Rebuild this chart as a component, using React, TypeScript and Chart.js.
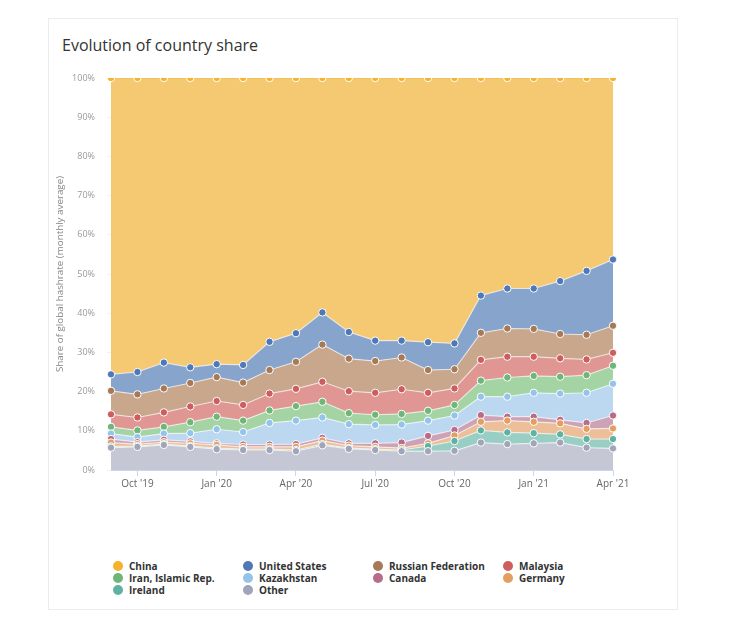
import React, { useEffect, useRef } from "react";
import { Chart, registerables } from "chart.js";

Chart.register(...registerables);

const months = [
  "Sep '19", "Oct '19", "Nov '19", "Dec '19", "Jan '20", "Feb '20", "Mar '20", "Apr '20",
  "May '20", "Jun '20", "Jul '20", "Aug '20", "Sep '20", "Oct '20", "Nov '20", "Dec '20",
  "Jan '21", "Feb '21", "Mar '21", "Apr '21",
];

const yTicks = [0, 10, 20, 30, 40, 50, 60, 70, 80, 90, 100];

const other = [5.7, 5.9, 6.4, 5.9, 5.3, 5.1, 5.1, 4.8, 6.3, 5.4, 5.1, 4.8, 4.8, 4.9, 7.0, 6.6, 6.8, 7.0, 5.7, 5.5];
const ireland = [0.3, 0.2, 0.2, 0.2, 0.3, 0.2, 0.2, 0.3, 0.3, 0.2, 0.2, 0.3, 1.3, 2.5, 3.1, 3.0, 2.6, 2.1, 2.2, 2.4];
const germany = [1.0, 0.5, 0.5, 0.7, 0.8, 0.6, 0.6, 0.8, 0.9, 0.6, 0.6, 0.5, 0.7, 1.4, 2.2, 3.0, 2.9, 2.8, 2.6, 2.7];
const canada = [0.9, 0.5, 0.6, 0.5, 0.4, 0.6, 0.6, 0.7, 0.7, 0.6, 0.9, 1.4, 1.9, 1.4, 1.7, 1.0, 1.3, 0.9, 1.5, 3.3];
const kazakhstan = [1.4, 1.3, 1.6, 2.1, 3.6, 3.2, 5.5, 6.0, 5.2, 4.9, 4.7, 4.6, 3.9, 3.7, 4.7, 5.1, 6.1, 6.7, 7.7, 8.1];
const iran = [1.7, 1.7, 1.7, 2.8, 3.2, 2.9, 3.2, 3.7, 4.0, 2.8, 2.6, 2.7, 2.5, 2.7, 4.1, 4.9, 4.3, 4.3, 4.5, 4.6];
const malaysia = [3.2, 3.3, 3.7, 4.0, 4.0, 4.0, 4.3, 4.4, 5.1, 5.6, 5.6, 6.3, 4.6, 4.2, 5.3, 5.3, 4.9, 4.7, 4.0, 3.3];
const russia = [6.0, 5.9, 6.1, 6.0, 6.1, 5.7, 6.0, 6.9, 9.5, 8.3, 8.1, 8.1, 5.8, 4.9, 6.9, 7.2, 7.1, 6.2, 6.3, 6.9];
const unitedStates = [4.2, 5.7, 6.6, 4.0, 3.3, 4.5, 7.2, 7.3, 8.2, 6.8, 5.2, 4.3, 7.1, 6.6, 9.5, 10.2, 10.3, 13.5, 16.3, 16.9];
const china = [75.6, 75.0, 72.6, 73.8, 73.0, 73.2, 67.3, 65.1, 59.8, 64.8, 67.0, 67.0, 67.4, 67.7, 55.5, 53.7, 53.7, 51.8, 49.2, 46.3];

// bottom to top
const seriesNames = ["Other", "Ireland", "Germany", "Canada", "Kazakhstan", "Iran, Islamic Rep.", "Malaysia", "Russian Federation", "United States", "China"];
const seriesData = [other, ireland, germany, canada, kazakhstan, iran, malaysia, russia, unitedStates, china];
const pointColors = [
  "rgb(160,165,185)", "rgb(95,178,162)", "rgb(228,158,98)", "rgb(182,108,138)", "rgb(148,196,234)",
  "rgb(112,182,118)", "rgb(206,94,94)", "rgb(166,122,88)", "rgb(78,120,182)", "rgb(246,178,42)",
];
const fillColors = [
  "rgb(197,200,212)", "rgb(152,206,196)", "rgb(237,191,152)", "rgb(206,162,182)", "rgb(188,216,240)",
  "rgb(164,211,164)", "rgb(224,151,148)", "rgb(200,167,141)", "rgb(134,164,204)", "rgb(245,200,114)",
];

const legendOrder = ["China", "United States", "Russian Federation", "Malaysia", "Iran, Islamic Rep.", "Kazakhstan", "Canada", "Germany", "Ireland", "Other"];

export default function App() {
  const canvasRef = useRef<HTMLCanvasElement | null>(null);

  useEffect(() => {
    if (!canvasRef.current) return;
    const chart = new Chart(canvasRef.current, {
      type: "line",
      data: {
        labels: months,
        datasets: seriesData.map((d, i) => ({
          label: seriesNames[i],
          data: d,
          fill: i === 0 ? "origin" : "-1",
          backgroundColor: fillColors[i],
          borderColor: i === seriesData.length - 1 ? "rgba(246,178,42,0.7)" : "rgba(255,255,255,0.6)",
          borderWidth: 1.2,
          pointRadius: 3.7,
          pointBackgroundColor: pointColors[i],
          pointBorderColor: "#ffffff",
          pointBorderWidth: 1,
          tension: 0,
        })),
      },
      options: {
        animation: false,
        responsive: false,
        maintainAspectRatio: false,
        layout: { padding: { top: 18, right: 20, bottom: 5, left: 0 } },
        plugins: { legend: { display: false }, tooltip: { enabled: false } },
        scales: {
          x: {
            stacked: true,
            offset: false,
            border: { display: true, color: "#ccd6eb" },
            grid: {
              drawOnChartArea: false,
              drawTicks: true,
              tickLength: 6,
              color: (ctx: any) => (ctx.index % 3 === 1 ? "#ccd6eb" : "rgba(0,0,0,0)"),
            },
            ticks: {
              autoSkip: false,
              maxRotation: 0,
              padding: 2,
              color: "#666666",
              font: { family: "Open Sans", size: 10 },
              callback: (_v: any, idx: number) => (idx % 3 === 1 ? months[idx] : ""),
            },
            afterFit: (scale: any) => {
              scale.height = 25;
            },
          },
          y: {
            stacked: true,
            min: yTicks[0],
            max: yTicks[yTicks.length - 1],
            z: 1,
            border: { display: false },
            grid: { color: "rgba(0,0,0,0.05)", tickLength: 4, drawTicks: true },
            afterBuildTicks: (scale: any) => {
              scale.ticks = yTicks.map((v) => ({ value: v }));
            },
            ticks: {
              padding: 12,
              color: "#999999",
              font: { family: "Open Sans", size: 9 },
              callback: (v: any) => v + "%",
            },
            title: {
              display: true,
              text: "Share of global hashrate (monthly average)",
              color: "#888888",
              font: { family: "Open Sans", size: 9.8 },
              padding: { top: 2, bottom: 0 },
            },
            afterFit: (scale: any) => {
              scale.width = 59;
            },
          },
        },
      },
    });
    return () => chart.destroy();
  }, []);

  return (
    <div style={{ position: "relative", width: 720, height: 620 }}>
      <div
        style={{
          position: "absolute",
          left: 40,
          top: 10,
          width: 630,
          height: 592,
          border: "1px solid #ececec",
          background: "#fff",
          boxSizing: "border-box",
        }}
      />
      <div
        style={{
          position: "absolute",
          left: 54,
          top: 27,
          fontFamily: "Open Sans",
          fontSize: 16,
          lineHeight: "20px",
          color: "#333",
          whiteSpace: "nowrap",
        }}
      >
        Evolution of country share
      </div>
      <canvas
        ref={canvasRef}
        width={581}
        height={440}
        style={{ position: "absolute", left: 44, top: 52, width: 581, height: 440 }}
      />
      {legendOrder.map((name, k) => {
        const idx = seriesNames.indexOf(name);
        const col = k % 4;
        const row = Math.floor(k / 4);
        return (
          <div
            key={name}
            style={{
              position: "absolute",
              left: 105 + col * 130,
              top: 552 + row * 12,
              height: 12,
              display: "flex",
              alignItems: "center",
              whiteSpace: "nowrap",
            }}
          >
            <span
              style={{
                display: "inline-block",
                width: 10,
                height: 10,
                borderRadius: "50%",
                background: pointColors[idx],
                marginRight: 6,
              }}
            />
            <span
              style={{
                fontFamily: "Open Sans",
                fontWeight: 700,
                fontSize: 10,
                lineHeight: "12px",
                color: "#333",
              }}
            >
              {name}
            </span>
          </div>
        );
      })}
    </div>
  );
}
